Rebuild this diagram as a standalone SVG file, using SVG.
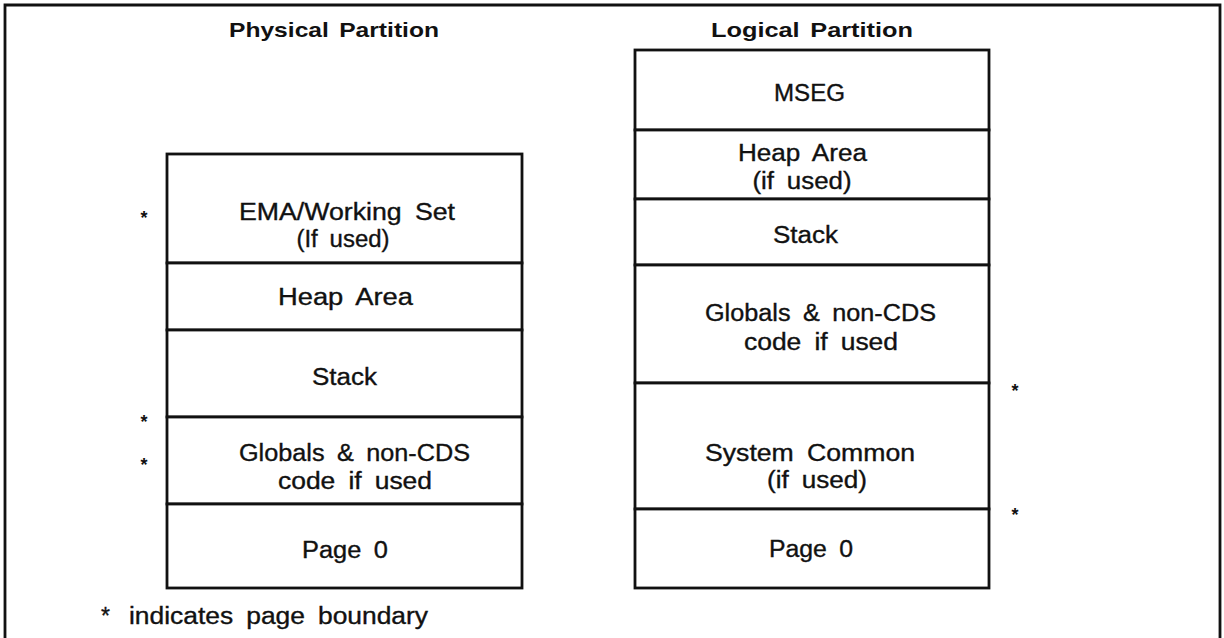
<svg xmlns="http://www.w3.org/2000/svg" width="1224" height="638" viewBox="0 0 1224 638">
  <style>
    .frame { fill: none; stroke: #111; stroke-width: 2.8; }
    .seg { fill: #fff; stroke: #111; stroke-width: 2.8; }
    .lbl { font-family: "Liberation Sans", Arial, sans-serif; font-size: 23px; word-spacing: 5px; fill: #111; stroke: #111; stroke-width: 0.35; text-anchor: middle; }
    .title { font-family: "Liberation Sans", Arial, sans-serif; font-size: 21px; font-weight: bold; word-spacing: 3px; fill: #111; text-anchor: middle; }
    .mark { font-family: "Liberation Sans", Arial, sans-serif; font-size: 18px; font-weight: bold; fill: #111; text-anchor: middle; }
    .note { font-family: "Liberation Sans", Arial, sans-serif; font-size: 23px; word-spacing: 5px; fill: #111; stroke: #111; stroke-width: 0.35; }
  </style>

  <rect width="1224" height="638" fill="#fff"/>

  <!-- outer frame, open at the bottom edge -->
  <path class="frame" d="M5,640 V5 H1220 V640"/>

  <!-- column headings -->
  <text class="title" x="334" y="37" textLength="210" lengthAdjust="spacingAndGlyphs">Physical Partition</text>
  <text class="title" x="812" y="37" textLength="202" lengthAdjust="spacingAndGlyphs">Logical Partition</text>

  <!-- physical partition stack -->
  <g id="phys-ema">
    <rect class="seg" x="167" y="154" width="355" height="109"/>
    <text class="lbl" x="347" y="220" textLength="216" lengthAdjust="spacingAndGlyphs">EMA/Working Set</text>
    <text class="lbl" x="343" y="247" textLength="93" lengthAdjust="spacingAndGlyphs">(If used)</text>
  </g>
  <g id="phys-heap">
    <rect class="seg" x="167" y="263" width="355" height="67"/>
    <text class="lbl" x="345.5" y="305" textLength="135" lengthAdjust="spacingAndGlyphs">Heap Area</text>
  </g>
  <g id="phys-stack">
    <rect class="seg" x="167" y="330" width="355" height="87"/>
    <text class="lbl" x="344.5" y="385" textLength="65" lengthAdjust="spacingAndGlyphs">Stack</text>
  </g>
  <g id="phys-globals">
    <rect class="seg" x="167" y="417" width="355" height="87"/>
    <text class="lbl" x="354.5" y="461" textLength="231" lengthAdjust="spacingAndGlyphs">Globals &amp; non-CDS</text>
    <text class="lbl" x="355" y="489" textLength="154" lengthAdjust="spacingAndGlyphs">code if used</text>
  </g>
  <g id="phys-page0">
    <rect class="seg" x="167" y="504" width="355" height="84"/>
    <text class="lbl" x="345" y="558" textLength="86" lengthAdjust="spacingAndGlyphs">Page 0</text>
  </g>

  <!-- logical partition stack -->
  <g id="log-mseg">
    <rect class="seg" x="635" y="50" width="354" height="80"/>
    <text class="lbl" x="809.5" y="101" textLength="71" lengthAdjust="spacingAndGlyphs">MSEG</text>
  </g>
  <g id="log-heap">
    <rect class="seg" x="635" y="130" width="354" height="69"/>
    <text class="lbl" x="802.5" y="161" textLength="129" lengthAdjust="spacingAndGlyphs">Heap Area</text>
    <text class="lbl" x="802" y="189" textLength="99" lengthAdjust="spacingAndGlyphs">(if used)</text>
  </g>
  <g id="log-stack">
    <rect class="seg" x="635" y="199" width="354" height="66"/>
    <text class="lbl" x="805.5" y="243" textLength="65" lengthAdjust="spacingAndGlyphs">Stack</text>
  </g>
  <g id="log-globals">
    <rect class="seg" x="635" y="265" width="354" height="118"/>
    <text class="lbl" x="820.5" y="321" textLength="231" lengthAdjust="spacingAndGlyphs">Globals &amp; non-CDS</text>
    <text class="lbl" x="821" y="350" textLength="154" lengthAdjust="spacingAndGlyphs">code if used</text>
  </g>
  <g id="log-syscommon">
    <rect class="seg" x="635" y="383" width="354" height="126"/>
    <text class="lbl" x="810" y="461" textLength="210" lengthAdjust="spacingAndGlyphs">System Common</text>
    <text class="lbl" x="817" y="488" textLength="100" lengthAdjust="spacingAndGlyphs">(if used)</text>
  </g>
  <g id="log-page0">
    <rect class="seg" x="635" y="509" width="354" height="79"/>
    <text class="lbl" x="811" y="557" textLength="84" lengthAdjust="spacingAndGlyphs">Page 0</text>
  </g>

  <!-- page boundary marks -->
  <g id="marks">
    <text class="mark" x="144" y="224">*</text>
    <text class="mark" x="144" y="428">*</text>
    <text class="mark" x="144" y="471">*</text>
    <text class="mark" x="1015" y="397">*</text>
    <text class="mark" x="1015" y="521">*</text>
  </g>

  <!-- footnote -->
  <text class="note" x="101" y="624">*<tspan x="129" textLength="299" lengthAdjust="spacingAndGlyphs">indicates page boundary</tspan></text>

  <!-- no connectors in this figure -->
  <g id="connectors"/>
</svg>
